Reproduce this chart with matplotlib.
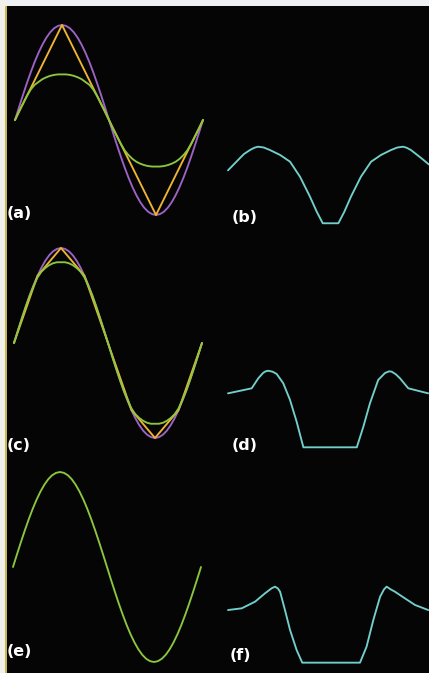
import matplotlib
matplotlib.use("Agg")
import matplotlib.pyplot as plt
from matplotlib.patches import Rectangle

W, H = 429, 673

# ── Données (phase sur une période, amplitude normalisée) ──
# pas de 1/48 de période
phase48 = [i / 48 for i in range(49)]
sine = [0, .131, .259, .383, .5, .609, .707, .793, .866, .924, .966, .991,
        1, .991, .966, .924, .866, .793, .707, .609, .5, .383, .259, .131,
        0, -.131, -.259, -.383, -.5, -.609, -.707, -.793, -.866, -.924, -.966, -.991,
        -1, -.991, -.966, -.924, -.866, -.793, -.707, -.609, -.5, -.383, -.259, -.131, 0]

# (a) triangle + sinus fortement écrêté
tri_x = [0, .25, .75, 1]
tri_y = [0, 1, -1, 0]
green_a = [0, .09, .17, .25, .32, .37, .40, .43, .45, .465, .475, .48,
           .48, .48, .475, .465, .45, .43, .40, .37, .32, .25, .17, .09,
           0, -.09, -.17, -.25, -.32, -.37, -.41, -.44, -.46, -.475, -.485, -.49,
           -.49, -.49, -.485, -.475, -.46, -.44, -.41, -.37, -.32, -.25, -.17, -.09, 0]

# (c) polygone à 8 côtés + sinus légèrement écrêté
oct_x = [k / 8 for k in range(9)]
oct_y = [0, .707, 1, .707, 0, -.707, -1, -.707, 0]
green_c = [0, .131, .259, .383, .5, .60, .69, .75, .79, .82, .84, .85,
           .85, .85, .84, .82, .79, .75, .69, .60, .5, .383, .259, .131,
           0, -.131, -.259, -.383, -.5, -.60, -.69, -.75, -.79, -.82, -.84, -.85,
           -.85, -.85, -.84, -.82, -.79, -.75, -.69, -.60, -.5, -.383, -.259, -.131, 0]

# (b), (d), (f) signaux de sortie (cyan)
b_x = [0, .064, .085, .117, .140, .160, .191, .223, .277, .330, .383, .436, .472, .504,
       .587, .619, .654, .707, .761, .814, .867, .900, .931, .950, .973, 1.027, 1.07]
b_y = [-.53, -.40, -.358, -.316, -.292, -.281, -.29, -.316, -.368, -.439, -.597, -.807,
       -.965, -1.087, -1.087, -.965, -.807, -.597, -.439, -.368, -.316, -.29, -.281,
       -.292, -.316, -.40, -.47]

d_x = [0, .126, .145, .161, .186, .200, .214, .237, .259, .294, .330, .365, .401,
       .685, .720, .755, .799, .835, .857, .871, .893, .915, .959, 1.065]
d_y = [-.53, -.477, -.42, -.372, -.316, -.298, -.292, -.302, -.326, -.424, -.60, -.828,
       -1.098, -1.098, -.881, -.635, -.389, -.316, -.298, -.302, -.33, -.372, -.477, -.53]

f_x = [0, .073, .144, .197, .232, .25, .265, .277, .303, .330, .365, .395,
       .702, .737, .773, .809, .830, .844, .865, .888, .941, .995, 1.065]
f_y = [-.453, -.435, -.365, -.277, -.224, -.207, -.225, -.26, -.453, -.663, -.874,
       -1.007, -1.007, -.839, -.558, -.313, -.235, -.207, -.235, -.26, -.33, -.40, -.453]

PURPLE = "#9d62c6"
YELLOW = "#f0b432"
GREEN = "#8cc63e"
CYAN = "#72cfcc"

fig = plt.figure(figsize=(W / 100, H / 100), dpi=100, facecolor="#050505")

# bords clairs du scan
fig.add_artist(Rectangle((0, 1 - 6 / H), 1, 6 / H, transform=fig.transFigure,
                         facecolor="#eef0f4", edgecolor="none"))
fig.add_artist(Rectangle((0, 0), 5 / W, 1, transform=fig.transFigure,
                         facecolor="#f2f0ea", edgecolor="none"))
fig.add_artist(Rectangle((5 / W, 0), 1.5 / W, 1 - 6 / H, transform=fig.transFigure,
                         facecolor="#c9b850", edgecolor="none"))


def panel(x0, cy):
    # période = 188 px, amplitude = 95 px
    ax = fig.add_axes([x0 / W, (H - cy - 95) / H, 188 / W, 190 / H])
    ax.set_xlim(0, 1)
    ax.set_ylim(-1, 1)
    ax.axis("off")
    return ax


kw = dict(lw=1.35, clip_on=False, solid_capstyle="round", solid_joinstyle="round")

ax = panel(15, 120)
ax.plot(phase48, sine, color=PURPLE, **kw)
ax.plot(tri_x, tri_y, color=YELLOW, **kw)
ax.plot(phase48, green_a, color=GREEN, **kw)

ax = panel(14, 343)
ax.plot(phase48, sine, color=PURPLE, **kw)
ax.plot(oct_x, oct_y, color=YELLOW, **kw)
ax.plot(phase48, green_c, color=GREEN, **kw)

ax = panel(13, 567)
ax.plot(phase48, sine, color=GREEN, **kw)

ax = panel(228, 120)
ax.plot(b_x, b_y, color=CYAN, **kw)
ax = panel(228, 343)
ax.plot(d_x, d_y, color=CYAN, **kw)
ax = panel(228, 567)
ax.plot(f_x, f_y, color=CYAN, **kw)

labels = ["(a)", "(b)", "(c)", "(d)", "(e)", "(f)"]
label_pos = [(7, 214), (232, 217), (7, 445), (232, 445), (7, 652), (230, 655)]
for lab, (lx, ly) in zip(labels, label_pos):
    fig.text(lx / W, 1 - ly / H, lab, color="white", fontsize=11.5,
             fontweight="bold", va="center", ha="left")

fig.savefig("out.png", dpi=100, facecolor=fig.get_facecolor())
